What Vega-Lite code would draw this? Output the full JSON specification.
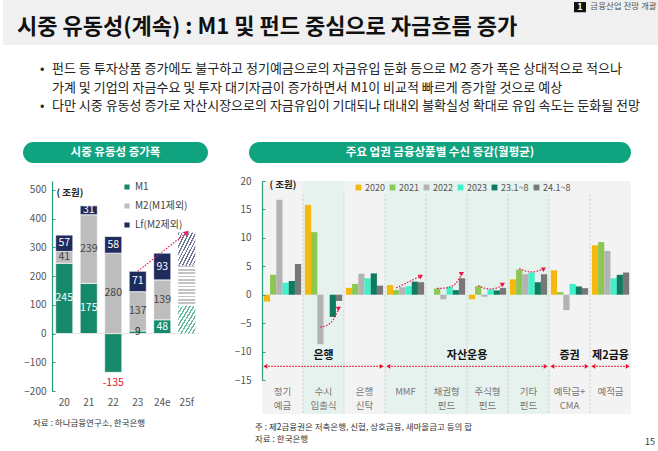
{
  "$schema": "https://vega.github.io/schema/vega-lite/v6.json",
  "padding": 0,
  "background": "white",
  "spacing": 0,
  "resolve": {"scale": {"color": "independent"}, "legend": {"color": "independent"}},
  "config": {
    "font": "Noto Sans CJK KR",
    "view": {"stroke": null},
    "axis": {"labelFont": "Noto Sans CJK KR", "titleFont": "Noto Sans CJK KR", "labelOverlap": false},
    "legend": {"labelFont": "Noto Sans CJK KR"},
    "title": {"font": "Noto Sans CJK KR", "subtitleFont": "Noto Sans CJK KR"}
  },
  "datasets": {
    "liquidity": [
      {"year": "20", "series": "M1", "value": 245},
      {"year": "20", "series": "M2(M1제외)", "value": 41},
      {"year": "20", "series": "Lf(M2제외)", "value": 57},
      {"year": "21", "series": "M1", "value": 175},
      {"year": "21", "series": "M2(M1제외)", "value": 239},
      {"year": "21", "series": "Lf(M2제외)", "value": 31},
      {"year": "22", "series": "M1", "value": -135},
      {"year": "22", "series": "M2(M1제외)", "value": 280},
      {"year": "22", "series": "Lf(M2제외)", "value": 58},
      {"year": "23", "series": "M1", "value": 9},
      {"year": "23", "series": "M2(M1제외)", "value": 137},
      {"year": "23", "series": "Lf(M2제외)", "value": 71},
      {"year": "24e", "series": "M1", "value": 48},
      {"year": "24e", "series": "M2(M1제외)", "value": 139},
      {"year": "24e", "series": "Lf(M2제외)", "value": 93},
      {"year": "25f", "series": "M1", "value": 97},
      {"year": "25f", "series": "M2(M1제외)", "value": 139},
      {"year": "25f", "series": "Lf(M2제외)", "value": 116}
    ],
    "cats": [
      {"cat": "정기 예금"}, {"cat": "수시 입출식"}, {"cat": "은행 신탁"}, {"cat": "MMF"}, {"cat": "채권형 펀드"},
      {"cat": "주식형 펀드"}, {"cat": "기타 펀드"}, {"cat": "예탁금+ CMA"}, {"cat": "예적금"}
    ],
    "deposits": [
      {"cat": "정기 예금", "series": "2020", "value": -1.2},
      {"cat": "정기 예금", "series": "2021", "value": 3.5},
      {"cat": "정기 예금", "series": "2022", "value": 16.7},
      {"cat": "정기 예금", "series": "2023", "value": 2.1},
      {"cat": "정기 예금", "series": "23.1~8", "value": 2.4},
      {"cat": "정기 예금", "series": "24.1~8", "value": 5.4},
      {"cat": "수시 입출식", "series": "2020", "value": 15.8},
      {"cat": "수시 입출식", "series": "2021", "value": 11.0},
      {"cat": "수시 입출식", "series": "2022", "value": -8.7},
      {"cat": "수시 입출식", "series": "2023", "value": 0},
      {"cat": "수시 입출식", "series": "23.1~8", "value": -3.9},
      {"cat": "수시 입출식", "series": "24.1~8", "value": -1.1},
      {"cat": "은행 신탁", "series": "2020", "value": 1.2},
      {"cat": "은행 신탁", "series": "2021", "value": 1.9},
      {"cat": "은행 신탁", "series": "2022", "value": 3.7},
      {"cat": "은행 신탁", "series": "2023", "value": 2.9},
      {"cat": "은행 신탁", "series": "23.1~8", "value": 3.75},
      {"cat": "은행 신탁", "series": "24.1~8", "value": 1.6},
      {"cat": "MMF", "series": "2020", "value": 1.7},
      {"cat": "MMF", "series": "2021", "value": 0.8},
      {"cat": "MMF", "series": "2022", "value": 1.3},
      {"cat": "MMF", "series": "2023", "value": 1.5},
      {"cat": "MMF", "series": "23.1~8", "value": 2.3},
      {"cat": "MMF", "series": "24.1~8", "value": 2.2},
      {"cat": "채권형 펀드", "series": "2020", "value": 0},
      {"cat": "채권형 펀드", "series": "2021", "value": 1.1},
      {"cat": "채권형 펀드", "series": "2022", "value": -0.8},
      {"cat": "채권형 펀드", "series": "2023", "value": 1.4},
      {"cat": "채권형 펀드", "series": "23.1~8", "value": 0.8},
      {"cat": "채권형 펀드", "series": "24.1~8", "value": 2.9},
      {"cat": "주식형 펀드", "series": "2020", "value": -0.8},
      {"cat": "주식형 펀드", "series": "2021", "value": 1.5},
      {"cat": "주식형 펀드", "series": "2022", "value": -0.35},
      {"cat": "주식형 펀드", "series": "2023", "value": 0.9},
      {"cat": "주식형 펀드", "series": "23.1~8", "value": 0.75},
      {"cat": "주식형 펀드", "series": "24.1~8", "value": 1.2},
      {"cat": "기타 펀드", "series": "2020", "value": 2.7},
      {"cat": "기타 펀드", "series": "2021", "value": 4.45},
      {"cat": "기타 펀드", "series": "2022", "value": 3.6},
      {"cat": "기타 펀드", "series": "2023", "value": 3.9},
      {"cat": "기타 펀드", "series": "23.1~8", "value": 2.2},
      {"cat": "기타 펀드", "series": "24.1~8", "value": 3.6},
      {"cat": "예탁금+ CMA", "series": "2020", "value": 4.3},
      {"cat": "예탁금+ CMA", "series": "2021", "value": 0.45},
      {"cat": "예탁금+ CMA", "series": "2022", "value": -2.7},
      {"cat": "예탁금+ CMA", "series": "2023", "value": 1.9},
      {"cat": "예탁금+ CMA", "series": "23.1~8", "value": 1.45},
      {"cat": "예탁금+ CMA", "series": "24.1~8", "value": 1.15},
      {"cat": "예적금", "series": "2020", "value": 8.7},
      {"cat": "예적금", "series": "2021", "value": 9.25},
      {"cat": "예적금", "series": "2022", "value": 7.7},
      {"cat": "예적금", "series": "2023", "value": 2.9},
      {"cat": "예적금", "series": "23.1~8", "value": 3.5},
      {"cat": "예적금", "series": "24.1~8", "value": 3.9}
    ],
    "curves": [
      {"arrow": "a1", "cat": "수시 입출식", "series": "2022", "value": -5.7},
      {"arrow": "a1", "cat": "수시 입출식", "series": "2023", "value": -5.4},
      {"arrow": "a1", "cat": "수시 입출식", "series": "23.1~8", "value": -4.5},
      {"arrow": "a1", "cat": "수시 입출식", "series": "24.1~8", "value": -2.3},
      {"arrow": "a2", "cat": "MMF", "series": "2021", "value": 1.2},
      {"arrow": "a2", "cat": "MMF", "series": "24.1~8", "value": 3.3},
      {"arrow": "a3", "cat": "채권형 펀드", "series": "2021", "value": 1.1},
      {"arrow": "a3", "cat": "채권형 펀드", "series": "2022", "value": 1.15},
      {"arrow": "a3", "cat": "채권형 펀드", "series": "2023", "value": 1.35},
      {"arrow": "a3", "cat": "채권형 펀드", "series": "23.1~8", "value": 2.0},
      {"arrow": "a3", "cat": "채권형 펀드", "series": "24.1~8", "value": 3.8},
      {"arrow": "a4", "cat": "주식형 펀드", "series": "2021", "value": 1.6},
      {"arrow": "a4", "cat": "주식형 펀드", "series": "2022", "value": 1.15},
      {"arrow": "a4", "cat": "주식형 펀드", "series": "2023", "value": 1.0},
      {"arrow": "a4", "cat": "주식형 펀드", "series": "23.1~8", "value": 1.2},
      {"arrow": "a4", "cat": "주식형 펀드", "series": "24.1~8", "value": 1.9},
      {"arrow": "a5", "cat": "기타 펀드", "series": "2021", "value": 4.6},
      {"arrow": "a5", "cat": "기타 펀드", "series": "2023", "value": 4.0},
      {"arrow": "a5", "cat": "기타 펀드", "series": "24.1~8", "value": 4.6}
    ],
    "curveHeads": [
      {"cat": "수시 입출식", "series": "24.1~8", "value": -2.3},
      {"cat": "MMF", "series": "24.1~8", "value": 3.3},
      {"cat": "채권형 펀드", "series": "24.1~8", "value": 3.8},
      {"cat": "주식형 펀드", "series": "24.1~8", "value": 1.9},
      {"cat": "기타 펀드", "series": "24.1~8", "value": 4.6}
    ],
    "groups": [
      {"group": "은행", "start": 0, "end": 3},
      {"group": "자산운용", "start": 3, "end": 7},
      {"group": "증권", "start": 7, "end": 8},
      {"group": "제2금융", "start": 8, "end": 9}
    ]
  },
  "vconcat": [
    {
      "bounds": "flush",
      "spacing": 0,
      "hconcat": [
        {
          "width": 571,
          "height": 45,
          "view": {"fill": "#f0f0f0", "stroke": null},
          "data": {"values": [{"a": 1}]},
          "mark": {"type": "point", "opacity": 0},
          "title": {
            "text": "시중 유동성(계속) : M1 및 펀드 중심으로 자금흐름 증가",
            "orient": "top",
            "anchor": "start",
            "frame": "group",
            "offset": -39,
            "dx": 14,
            "fontSize": 22,
            "fontWeight": "bold",
            "color": "#111111"
          }
        },
        {
          "width": 12,
          "height": 45,
          "view": {"fill": "#f0f0f0", "stroke": null},
          "data": {"values": [{"row": "r1", "t": "1"}]},
          "encoding": {
            "y": {"field": "row", "type": "nominal", "scale": {"domain": ["r1", "r2", "r3", "r4"], "paddingInner": 0, "paddingOuter": 0.2}, "axis": null}
          },
          "layer": [
            {"mark": {"type": "bar", "color": "#111111"}},
            {"mark": {"type": "text", "color": "white", "fontSize": 9, "fontWeight": "bold"}, "encoding": {"text": {"field": "t"}}}
          ]
        },
        {
          "width": 75,
          "height": 45,
          "view": {"fill": "#f0f0f0", "stroke": null},
          "data": {"values": [{"row": "r1", "t": "금융산업 전망 개괄"}]},
          "mark": {"type": "text", "color": "#555555", "fontSize": 8.5},
          "encoding": {
            "y": {"field": "row", "type": "nominal", "scale": {"domain": ["r1", "r2", "r3", "r4"], "paddingInner": 0, "paddingOuter": 0.2}, "axis": null},
            "text": {"field": "t"}
          }
        }
      ]
    },
    {
      "bounds": "flush",
      "spacing": 0,
      "hconcat": [
        {
          "width": 49,
          "height": 97,
          "data": {"values": [{"a": 1}]},
          "mark": {"type": "point", "opacity": 0},
          "title": {
            "text": ["•", "⠀", "•"],
            "orient": "top",
            "anchor": "start",
            "frame": "group",
            "offset": -68,
            "dx": 37,
            "fontSize": 13,
            "fontWeight": "normal",
            "color": "#222222",
            "lineHeight": 18.5
          }
        },
        {
          "width": 609,
          "height": 97,
          "data": {"values": [{"a": 1}]},
          "mark": {"type": "point", "opacity": 0},
          "title": {
            "text": [
              "펀드 등 투자상품 증가에도 불구하고 정기예금으로의 자금유입 둔화 등으로 M2 증가 폭은 상대적으로 적으나",
              "가계 및 기업의 자금수요 및 투자 대기자금이 증가하면서 M1이 비교적 빠르게 증가할 것으로 예상",
              "다만 시중 유동성 증가로 자산시장으로의 자금유입이 기대되나 대내외 불확실성 확대로 유입 속도는 둔화될 전망"
            ],
            "orient": "top",
            "anchor": "start",
            "frame": "group",
            "offset": -68,
            "dx": 0,
            "fontSize": 13,
            "fontWeight": "normal",
            "color": "#222222",
            "lineHeight": 18.5
          }
        }
      ]
    },
    {
      "bounds": "flush",
      "spacing": 0,
      "hconcat": [
        {"width": 20, "height": 21, "data": {"values": [{"a": 1}]}, "mark": {"type": "point", "opacity": 0}},
        {
          "width": 185,
          "height": 21,
          "view": {"fill": "#10a37f", "stroke": null, "cornerRadius": 10.5},
          "data": {"values": [{"t": "시중 유동성 증가폭"}]},
          "mark": {"type": "text", "color": "white", "fontSize": 11.5, "fontWeight": "bold"},
          "encoding": {"text": {"field": "t"}}
        },
        {"width": 41, "height": 21, "data": {"values": [{"a": 1}]}, "mark": {"type": "point", "opacity": 0}},
        {
          "width": 382,
          "height": 21,
          "view": {"fill": "#10a37f", "stroke": null, "cornerRadius": 10.5},
          "data": {"values": [{"t": "주요 업권 금융상품별 수신 증감(월평균)"}]},
          "mark": {"type": "text", "color": "white", "fontSize": 11.5, "fontWeight": "bold"},
          "encoding": {"text": {"field": "t"}}
        }
      ]
    },
    {"width": 1, "height": 13, "data": {"values": [{"a": 1}]}, "mark": {"type": "point", "opacity": 0}},
    {
      "bounds": "flush",
      "spacing": 0,
      "resolve": {"scale": {"color": "independent"}, "legend": {"color": "independent"}},
      "hconcat": [
        {"width": 49, "height": 1, "data": {"values": [{"a": 1}]}, "mark": {"type": "point", "opacity": 0}},
        {
          "width": 147,
          "height": 210,
          "data": {"name": "liquidity"},
          "transform": [
            {"calculate": "indexof(['M1','M2(M1제외)','Lf(M2제외)'], datum.series)", "as": "k"}
          ],
          "title": {
            "text": "자료 : 하나금융연구소, 한국은행",
            "orient": "bottom",
            "anchor": "start",
            "frame": "group",
            "dx": -19,
            "offset": 12,
            "fontSize": 8.5,
            "fontWeight": "normal",
            "color": "#333333"
          },
          "layer": [
            {
              "transform": [{"filter": "datum.year != '25f'"}],
              "mark": {"type": "bar", "stroke": "white", "strokeWidth": 0.7},
              "encoding": {
                "x": {
                  "field": "year", "type": "nominal", "title": null,
                  "scale": {"domain": ["20", "21", "22", "23", "24e", "25f"], "paddingInner": 0.3, "paddingOuter": 0.15},
                  "axis": {"domain": false, "ticks": false, "labelColor": "#555555", "labelFontSize": 10, "labelPadding": 6, "labelAngle": 0}
                },
                "y": {
                  "field": "value", "type": "quantitative", "stack": "zero", "title": "( 조원)",
                  "scale": {"domain": [-200, 531.34], "nice": false},
                  "axis": {
                    "values": [-200, -100, 0, 100, 200, 300, 400, 500],
                    "tickCount": 12,
                    "grid": false, "zindex": 1, "labelOverlap": false,
                    "domainColor": "#2a9d7c", "domainWidth": 1.2,
                    "tickColor": "#2a9d7c", "tickSize": -3,
                    "labelColor": "#555555", "labelFontSize": 10, "labelPadding": 9,
                    "titleAngle": 0, "titleX": 4, "titleY": 11, "titleAlign": "left", "titleBaseline": "middle",
                    "titleFontSize": 9.5, "titleFontWeight": "bold", "titleColor": "#222222"
                  }
                },
                "color": {
                  "field": "series", "type": "nominal",
                  "scale": {"domain": ["M1", "M2(M1제외)", "Lf(M2제외)"], "range": ["#17896b", "#bdbdbd", "#1e2b5c"]},
                  "legend": {
                    "title": null, "orient": "none", "direction": "vertical", "legendX": 70, "legendY": 1, "padding": 0,
                    "symbolType": "square", "symbolSize": 45, "labelFontSize": 10, "labelColor": "#444444",
                    "rowPadding": 5, "labelOffset": 3
                  }
                },
                "order": {"field": "k", "type": "quantitative"}
              }
            },
            {
              "data": {"values": [{"z": 0}]},
              "mark": {"type": "rule", "color": "#e3e3e3", "strokeWidth": 1},
              "encoding": {"y": {"field": "z", "type": "quantitative", "title": "( 조원)"}}
            },
            {
              "transform": [
                {"filter": "datum.year == '25f'"},
                {"stack": "value", "groupby": ["year"], "sort": [{"field": "k", "order": "ascending"}], "as": ["v0", "v1"]},
                {"filter": "datum.series == 'M1'"}
              ],
              "mark": {
                "type": "bar",
                "fill": {
                  "gradient": "linear", "x1": 0, "y1": 0, "x2": 1, "y2": 1,
                  "stops": [
                    {"offset": 0, "color": "#63b99c"}, {"offset": 0.044, "color": "#63b99c"}, {"offset": 0.044, "color": "#ffffff"}, {"offset": 0.111, "color": "#ffffff"},
                    {"offset": 0.111, "color": "#63b99c"}, {"offset": 0.156, "color": "#63b99c"}, {"offset": 0.156, "color": "#ffffff"}, {"offset": 0.222, "color": "#ffffff"},
                    {"offset": 0.222, "color": "#63b99c"}, {"offset": 0.267, "color": "#63b99c"}, {"offset": 0.267, "color": "#ffffff"}, {"offset": 0.333, "color": "#ffffff"},
                    {"offset": 0.333, "color": "#63b99c"}, {"offset": 0.378, "color": "#63b99c"}, {"offset": 0.378, "color": "#ffffff"}, {"offset": 0.444, "color": "#ffffff"},
                    {"offset": 0.444, "color": "#63b99c"}, {"offset": 0.489, "color": "#63b99c"}, {"offset": 0.489, "color": "#ffffff"}, {"offset": 0.556, "color": "#ffffff"},
                    {"offset": 0.556, "color": "#63b99c"}, {"offset": 0.6, "color": "#63b99c"}, {"offset": 0.6, "color": "#ffffff"}, {"offset": 0.667, "color": "#ffffff"},
                    {"offset": 0.667, "color": "#63b99c"}, {"offset": 0.711, "color": "#63b99c"}, {"offset": 0.711, "color": "#ffffff"}, {"offset": 0.778, "color": "#ffffff"},
                    {"offset": 0.778, "color": "#63b99c"}, {"offset": 0.822, "color": "#63b99c"}, {"offset": 0.822, "color": "#ffffff"}, {"offset": 0.889, "color": "#ffffff"},
                    {"offset": 0.889, "color": "#63b99c"}, {"offset": 0.933, "color": "#63b99c"}, {"offset": 0.933, "color": "#ffffff"}, {"offset": 1, "color": "#ffffff"}
                  ]
                }
              },
              "encoding": {
                "x": {"field": "year", "type": "nominal", "title": null},
                "y": {"field": "v0", "type": "quantitative", "title": "( 조원)"},
                "y2": {"field": "v1"}
              }
            },
            {
              "transform": [
                {"filter": "datum.year == '25f'"},
                {"stack": "value", "groupby": ["year"], "sort": [{"field": "k", "order": "ascending"}], "as": ["v0", "v1"]},
                {"filter": "datum.series == 'M2(M1제외)'"}
              ],
              "mark": {
                "type": "bar",
                "fill": {
                  "gradient": "linear", "x1": 0, "y1": 0, "x2": 0, "y2": 1,
                  "stops": [
                    {"offset": 0, "color": "#c4c4c4"}, {"offset": 0.0375, "color": "#c4c4c4"}, {"offset": 0.0375, "color": "#ffffff"}, {"offset": 0.0833, "color": "#ffffff"},
                    {"offset": 0.0833, "color": "#c4c4c4"}, {"offset": 0.1208, "color": "#c4c4c4"}, {"offset": 0.1208, "color": "#ffffff"}, {"offset": 0.1667, "color": "#ffffff"},
                    {"offset": 0.1667, "color": "#c4c4c4"}, {"offset": 0.2042, "color": "#c4c4c4"}, {"offset": 0.2042, "color": "#ffffff"}, {"offset": 0.25, "color": "#ffffff"},
                    {"offset": 0.25, "color": "#c4c4c4"}, {"offset": 0.2875, "color": "#c4c4c4"}, {"offset": 0.2875, "color": "#ffffff"}, {"offset": 0.3333, "color": "#ffffff"},
                    {"offset": 0.3333, "color": "#c4c4c4"}, {"offset": 0.3708, "color": "#c4c4c4"}, {"offset": 0.3708, "color": "#ffffff"}, {"offset": 0.4167, "color": "#ffffff"},
                    {"offset": 0.4167, "color": "#c4c4c4"}, {"offset": 0.4542, "color": "#c4c4c4"}, {"offset": 0.4542, "color": "#ffffff"}, {"offset": 0.5, "color": "#ffffff"},
                    {"offset": 0.5, "color": "#c4c4c4"}, {"offset": 0.5375, "color": "#c4c4c4"}, {"offset": 0.5375, "color": "#ffffff"}, {"offset": 0.5833, "color": "#ffffff"},
                    {"offset": 0.5833, "color": "#c4c4c4"}, {"offset": 0.6208, "color": "#c4c4c4"}, {"offset": 0.6208, "color": "#ffffff"}, {"offset": 0.6667, "color": "#ffffff"},
                    {"offset": 0.6667, "color": "#c4c4c4"}, {"offset": 0.7042, "color": "#c4c4c4"}, {"offset": 0.7042, "color": "#ffffff"}, {"offset": 0.75, "color": "#ffffff"},
                    {"offset": 0.75, "color": "#c4c4c4"}, {"offset": 0.7875, "color": "#c4c4c4"}, {"offset": 0.7875, "color": "#ffffff"}, {"offset": 0.8333, "color": "#ffffff"},
                    {"offset": 0.8333, "color": "#c4c4c4"}, {"offset": 0.8708, "color": "#c4c4c4"}, {"offset": 0.8708, "color": "#ffffff"}, {"offset": 0.9167, "color": "#ffffff"},
                    {"offset": 0.9167, "color": "#c4c4c4"}, {"offset": 0.9542, "color": "#c4c4c4"}, {"offset": 0.9542, "color": "#ffffff"}, {"offset": 1, "color": "#ffffff"}
                  ]
                }
              },
              "encoding": {
                "x": {"field": "year", "type": "nominal", "title": null},
                "y": {"field": "v0", "type": "quantitative", "title": "( 조원)"},
                "y2": {"field": "v1"}
              }
            },
            {
              "transform": [
                {"filter": "datum.year == '25f'"},
                {"stack": "value", "groupby": ["year"], "sort": [{"field": "k", "order": "ascending"}], "as": ["v0", "v1"]},
                {"filter": "datum.series == 'Lf(M2제외)'"}
              ],
              "mark": {
                "type": "bar",
                "fill": {
                  "gradient": "linear", "x1": 0, "y1": 0, "x2": 1, "y2": 1,
                  "stops": [
                    {"offset": 0, "color": "#6e7696"}, {"offset": 0.04, "color": "#6e7696"}, {"offset": 0.04, "color": "#ffffff"}, {"offset": 0.1, "color": "#ffffff"},
                    {"offset": 0.1, "color": "#6e7696"}, {"offset": 0.14, "color": "#6e7696"}, {"offset": 0.14, "color": "#ffffff"}, {"offset": 0.2, "color": "#ffffff"},
                    {"offset": 0.2, "color": "#6e7696"}, {"offset": 0.24, "color": "#6e7696"}, {"offset": 0.24, "color": "#ffffff"}, {"offset": 0.3, "color": "#ffffff"},
                    {"offset": 0.3, "color": "#6e7696"}, {"offset": 0.34, "color": "#6e7696"}, {"offset": 0.34, "color": "#ffffff"}, {"offset": 0.4, "color": "#ffffff"},
                    {"offset": 0.4, "color": "#6e7696"}, {"offset": 0.44, "color": "#6e7696"}, {"offset": 0.44, "color": "#ffffff"}, {"offset": 0.5, "color": "#ffffff"},
                    {"offset": 0.5, "color": "#6e7696"}, {"offset": 0.54, "color": "#6e7696"}, {"offset": 0.54, "color": "#ffffff"}, {"offset": 0.6, "color": "#ffffff"},
                    {"offset": 0.6, "color": "#6e7696"}, {"offset": 0.64, "color": "#6e7696"}, {"offset": 0.64, "color": "#ffffff"}, {"offset": 0.7, "color": "#ffffff"},
                    {"offset": 0.7, "color": "#6e7696"}, {"offset": 0.74, "color": "#6e7696"}, {"offset": 0.74, "color": "#ffffff"}, {"offset": 0.8, "color": "#ffffff"},
                    {"offset": 0.8, "color": "#6e7696"}, {"offset": 0.84, "color": "#6e7696"}, {"offset": 0.84, "color": "#ffffff"}, {"offset": 0.9, "color": "#ffffff"},
                    {"offset": 0.9, "color": "#6e7696"}, {"offset": 0.94, "color": "#6e7696"}, {"offset": 0.94, "color": "#ffffff"}, {"offset": 1, "color": "#ffffff"}
                  ]
                }
              },
              "encoding": {
                "x": {"field": "year", "type": "nominal", "title": null},
                "y": {"field": "v0", "type": "quantitative", "title": "( 조원)"},
                "y2": {"field": "v1"}
              }
            },
            {
              "transform": [
                {"filter": "datum.year != '25f'"},
                {"stack": "value", "groupby": ["year"], "sort": [{"field": "k", "order": "ascending"}], "as": ["v0", "v1"]},
                {"calculate": "(datum.v0 + datum.v1) / 2", "as": "mid"}
              ],
              "layer": [
                {
                  "transform": [{"filter": "datum.series == 'M1' && datum.value > 20"}],
                  "mark": {"type": "text", "color": "white", "fontSize": 10.5},
                  "encoding": {
                    "x": {"field": "year", "type": "nominal", "title": null},
                    "y": {"field": "mid", "type": "quantitative", "title": "( 조원)"},
                    "text": {"field": "value"}
                  }
                },
                {
                  "transform": [{"filter": "datum.series == 'M2(M1제외)'"}],
                  "mark": {"type": "text", "color": "#444444", "fontSize": 10.5},
                  "encoding": {
                    "x": {"field": "year", "type": "nominal", "title": null},
                    "y": {"field": "mid", "type": "quantitative", "title": "( 조원)"},
                    "text": {"field": "value"}
                  }
                },
                {
                  "transform": [{"filter": "datum.series == 'Lf(M2제외)'"}],
                  "mark": {"type": "text", "color": "white", "fontSize": 10.5},
                  "encoding": {
                    "x": {"field": "year", "type": "nominal", "title": null},
                    "y": {"field": "mid", "type": "quantitative", "title": "( 조원)"},
                    "text": {"field": "value"}
                  }
                },
                {
                  "transform": [{"filter": "datum.series == 'M1' && datum.value > 0 && datum.value <= 20"}],
                  "mark": {"type": "text", "color": "#222222", "fontSize": 10},
                  "encoding": {
                    "x": {"field": "year", "type": "nominal", "title": null},
                    "y": {"field": "mid", "type": "quantitative", "title": "( 조원)"},
                    "text": {"field": "value"}
                  }
                },
                {
                  "transform": [{"filter": "datum.series == 'M1' && datum.value < 0"}],
                  "mark": {"type": "text", "color": "#e8112d", "fontSize": 10.5, "baseline": "top", "dy": 6},
                  "encoding": {
                    "x": {"field": "year", "type": "nominal", "title": null},
                    "y": {"field": "value", "type": "quantitative", "title": "( 조원)"},
                    "text": {"field": "value"}
                  }
                }
              ]
            },
            {
              "data": {"values": [{"year": "23", "value": 217}, {"year": "25f", "value": 352}]},
              "mark": {"type": "line", "color": "#e0245e", "strokeWidth": 1.2, "strokeDash": [1.5, 1.5]},
              "encoding": {
                "x": {"field": "year", "type": "nominal", "title": null},
                "y": {"field": "value", "type": "quantitative", "title": "( 조원)"}
              }
            },
            {
              "data": {"values": [{"year": "25f", "value": 352}]},
              "mark": {"type": "point", "shape": "triangle-right", "angle": -40, "filled": true, "size": 35, "color": "#e0245e", "opacity": 1},
              "encoding": {
                "x": {"field": "year", "type": "nominal", "title": null},
                "y": {"field": "value", "type": "quantitative", "title": "( 조원)"}
              }
            }
          ]
        },
        {"width": 63, "height": 1, "data": {"values": [{"a": 1}]}, "mark": {"type": "point", "opacity": 0}},
        {
          "width": 369,
          "height": 199,
          "title": {
            "text": ["주 : 제2금융권은 저축은행, 신협, 상호금융, 새마을금고 등의 합", "자료 : 한국은행"],
            "orient": "bottom",
            "anchor": "start",
            "frame": "group",
            "dx": -7,
            "offset": 8,
            "fontSize": 8.5,
            "fontWeight": "normal",
            "color": "#333333",
            "lineHeight": 12
          },
          "resolve": {"scale": {"x": "independent"}},
          "layer": [
            {
              "layer": [
                {
                  "data": {"name": "cats"},
                  "mark": {"type": "rect"},
                  "encoding": {
                    "x": {
                      "field": "cat", "type": "nominal", "title": null,
                      "scale": {"domain": ["정기 예금", "수시 입출식", "은행 신탁", "MMF", "채권형 펀드", "주식형 펀드", "기타 펀드", "예탁금+ CMA", "예적금"], "paddingInner": 0, "paddingOuter": 0},
                      "axis": {"domain": false, "ticks": false, "zindex": 1, "labelColor": "#777777", "labelFontSize": 9.5, "labelPadding": 6, "labelAngle": 0, "labelExpr": "split(datum.label, ' ')", "labelLineHeight": 14}
                    },
                    "y": {
                      "datum": 20, "type": "quantitative",
                      "scale": {"domain": [-15, 20], "nice": false},
                      "axis": {
                        "title": "( 조원)",
                        "values": [-15, -10, -5, 0, 5, 10, 15, 20],
                        "tickCount": 12,
                        "grid": false, "zindex": 1, "labelOverlap": false,
                        "domainColor": "#2a9d7c", "domainWidth": 1.2,
                        "tickColor": "#2a9d7c", "tickSize": -3,
                        "labelColor": "#555555", "labelFontSize": 10, "labelPadding": 14,
                        "titleAngle": 0, "titleX": 7, "titleY": 3, "titleAlign": "left", "titleBaseline": "middle",
                        "titleFontSize": 9.5, "titleFontWeight": "bold", "titleColor": "#222222"
                      }
                    },
                    "y2": {"datum": -21},
                    "color": {
                      "condition": {"test": "indexof(['수시 입출식','MMF','채권형 펀드','주식형 펀드','기타 펀드'], datum.cat) >= 0", "value": "#e5f2ee"},
                      "value": "#f3f3f3"
                    }
                  }
                },
                {
                  "data": {"name": "cats"},
                  "transform": [{"filter": "datum.cat != '정기 예금'"}],
                  "mark": {"type": "rule", "color": "#cccccc", "strokeDash": [2, 2], "strokeWidth": 1},
                  "encoding": {
                    "x": {"field": "cat", "type": "nominal", "title": null, "bandPosition": 0},
                    "y": {"datum": 17.6, "type": "quantitative"},
                    "y2": {"datum": -21}
                  }
                },
                {
                  "data": {"name": "deposits"},
                  "mark": {"type": "bar"},
                  "encoding": {
                    "x": {"field": "cat", "type": "nominal", "title": null},
                    "xOffset": {
                      "field": "series", "type": "nominal",
                      "scale": {"domain": ["2020", "2021", "2022", "2023", "23.1~8", "24.1~8"], "paddingInner": 0, "paddingOuter": 0.3}
                    },
                    "y": {"field": "value", "type": "quantitative", "title": "( 조원)"},
                    "color": {
                      "field": "series", "type": "nominal",
                      "scale": {"domain": ["2020", "2021", "2022", "2023", "23.1~8", "24.1~8"], "range": ["#f5b80f", "#8cc653", "#b3b3b3", "#40f0c8", "#0f7a5f", "#777777"]},
                      "legend": {
                        "title": null, "orient": "none", "direction": "horizontal", "legendX": 92, "legendY": 2, "padding": 0,
                        "gridAlign": "none",
                        "symbolType": "square", "symbolSize": 34, "labelFontSize": 9, "labelColor": "#555555",
                        "columnPadding": 3, "labelOffset": 2
                      }
                    }
                  }
                },
                {
                  "data": {"name": "curves"},
                  "mark": {"type": "line", "color": "#e8174a", "strokeWidth": 1.2, "strokeDash": [1.5, 1.5], "interpolate": "monotone"},
                  "encoding": {
                    "x": {"field": "cat", "type": "nominal", "title": null},
                    "xOffset": {"field": "series", "type": "nominal"},
                    "y": {"field": "value", "type": "quantitative", "title": "( 조원)"},
                    "detail": {"field": "arrow"}
                  }
                },
                {
                  "data": {"name": "curveHeads"},
                  "mark": {"type": "point", "shape": "triangle-right", "angle": -30, "filled": true, "size": 28, "color": "#e8174a", "opacity": 1},
                  "encoding": {
                    "x": {"field": "cat", "type": "nominal", "title": null},
                    "xOffset": {"field": "series", "type": "nominal"},
                    "y": {"field": "value", "type": "quantitative", "title": "( 조원)"}
                  }
                }
              ]
            },
            {
              "data": {"name": "groups"},
              "transform": [
                {"calculate": "(datum.start + datum.end) / 2", "as": "mid"},
                {"calculate": "datum.start + 0.08", "as": "s"},
                {"calculate": "datum.end - 0.08", "as": "e"}
              ],
              "layer": [
                {
                  "mark": {"type": "rule", "color": "#e8112d", "strokeDash": [1.5, 1.5], "strokeWidth": 1.2},
                  "encoding": {
                    "x": {"field": "s", "type": "quantitative", "scale": {"domain": [0, 9], "nice": false, "zero": false}, "axis": null},
                    "x2": {"field": "e"},
                    "y": {"datum": -12.6, "type": "quantitative"}
                  }
                },
                {
                  "mark": {"type": "point", "shape": "triangle-left", "filled": true, "size": 22, "color": "#e8112d", "opacity": 1},
                  "encoding": {
                    "x": {"field": "s", "type": "quantitative", "axis": null},
                    "y": {"datum": -12.6, "type": "quantitative"}
                  }
                },
                {
                  "mark": {"type": "point", "shape": "triangle-right", "filled": true, "size": 22, "color": "#e8112d", "opacity": 1},
                  "encoding": {
                    "x": {"field": "e", "type": "quantitative", "axis": null},
                    "y": {"datum": -12.6, "type": "quantitative"}
                  }
                },
                {
                  "mark": {"type": "text", "fontWeight": "bold", "fontSize": 11, "color": "#111111"},
                  "encoding": {
                    "x": {"field": "mid", "type": "quantitative", "axis": null},
                    "y": {"datum": -10.7, "type": "quantitative"},
                    "text": {"field": "group"}
                  }
                }
              ]
            }
          ]
        },
        {"width": 10, "height": 1, "data": {"values": [{"a": 1}]}, "mark": {"type": "point", "opacity": 0}},
        {
          "width": 18,
          "height": 199,
          "data": {"values": [{"a": 1}]},
          "mark": {"type": "point", "opacity": 0},
          "title": {"text": "15", "orient": "bottom", "anchor": "middle", "frame": "group", "offset": 58, "fontSize": 9, "fontWeight": "normal", "color": "#333333"}
        }
      ]
    }
  ]
}
